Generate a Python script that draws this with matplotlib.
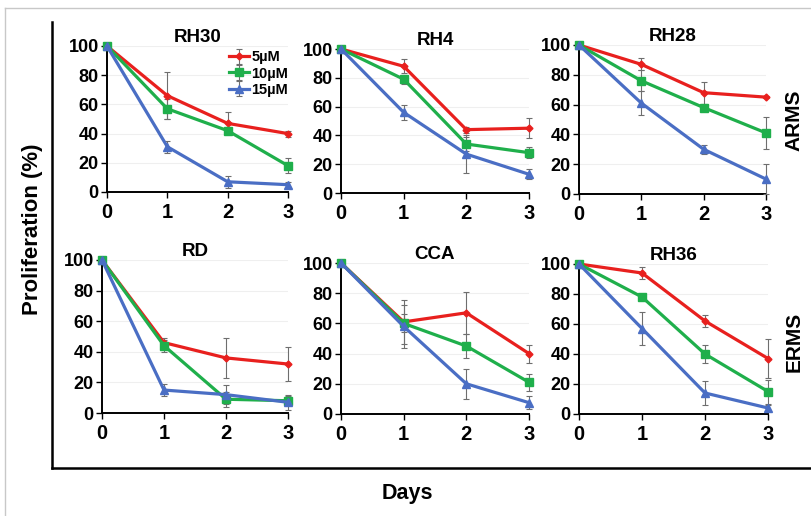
import matplotlib
matplotlib.use("Agg")
import matplotlib.pyplot as plt
from matplotlib.lines import Line2D

plt.rcParams['font.family'] = ['Liberation Sans', 'DejaVu Sans']
plt.rcParams['font.weight'] = 'bold'

days = [0, 1, 2, 3]
series_labels = ["5\u00b5M", "10\u00b5M", "15\u00b5M"]
colors = ["#E8201E", "#1FAF4B", "#4A6EC4"]
markers = ["D", "s", "^"]
msizes = [3.5, 5.5, 5.5]

panels = ["RH30", "RH4", "RH28", "RD", "CCA", "RH36"]

# values per panel: [5uM, 10uM, 15uM]
rh30_vals = [[100, 66, 47, 40], [100, 57, 42, 18], [100, 31, 7, 5]]
rh30_errs = [[0, 16, 7.5, 2], [0, 7, 2, 5], [0, 4, 4, 2]]
rh4_vals = [[100, 88, 44, 45], [100, 79, 34, 28], [100, 56, 27, 13]]
rh4_errs = [[0, 5, 2, 7], [0, 3, 5, 4], [0, 5, 13, 3.5]]
rh28_vals = [[100, 87, 68, 65], [100, 76, 58, 41], [100, 61, 30, 10]]
rh28_errs = [[0, 4, 7.5, 0.5], [0, 7, 1, 11], [0, 8, 3, 10]]
rd_vals = [[100, 46, 36, 32], [100, 44, 9, 8], [100, 15, 12, 7]]
rd_errs = [[0, 3, 13, 11], [0, 4, 5, 3], [0, 4, 6, 5]]
cca_vals = [[100, 61, 67, 40], [100, 60, 45, 21], [100, 58, 20, 7.5]]
cca_errs = [[0, 14.5, 14, 6], [0, 6, 8, 5.5], [0, 14, 10, 4.5]]
rh36_vals = [[100, 94, 62, 37], [100, 78, 40, 15], [100, 57, 14, 4]]
rh36_errs = [[0, 4, 4, 13], [0, 1, 6, 8], [0, 11, 8, 2]]

all_vals = [rh30_vals, rh4_vals, rh28_vals, rd_vals, cca_vals, rh36_vals]
all_errs = [rh30_errs, rh4_errs, rh28_errs, rd_errs, cca_errs, rh36_errs]

W, H = 812, 516
# axes rectangles in pixel coordinates: x0(day 0), x3(day 3), y_top(100), y_bottom(0)
rects = [(107, 288, 46, 192), (341, 529, 49, 193), (579, 766, 45, 194),
         (102, 288, 260, 413), (341, 529, 263, 414), (579, 768, 264, 414)]

fig = plt.figure(figsize=(W / 100, H / 100), dpi=100)

# outer frame lines
fig.add_artist(Line2D([5 / W, 5 / W], [0, 1 - 8 / H], color="#c8c8c8", lw=1.0))
fig.add_artist(Line2D([5 / W, 1], [1 - 8 / H, 1 - 8 / H], color="#c8c8c8", lw=1.0))
fig.add_artist(Line2D([52 / W, 52 / W], [1 - 22 / H, 1 - 468 / H], color="black", lw=1.8))
fig.add_artist(Line2D([52 / W, 1], [1 - 468 / H, 1 - 468 / H], color="black", lw=1.8))

for i, (name, vals, errs, r) in enumerate(zip(panels, all_vals, all_errs, rects)):
    x0, x3, yt, yb = r
    ax = fig.add_axes([x0 / W, 1 - yb / H, (x3 - x0) / W, (yb - yt) / H])
    for j in range(3):
        ax.errorbar(days, vals[j], yerr=errs[j], color=colors[j], ecolor="#6e6e6e",
                    elinewidth=0.8, capsize=2, capthick=0.8, lw=2.3,
                    marker=markers[j], ms=msizes[j], label=series_labels[j],
                    clip_on=False, zorder=3)
    ax.set_xlim(0, 3)
    ax.set_ylim(0, 100)
    ax.set_xticks(days)
    ax.set_yticks([0, 20, 40, 60, 80, 100])
    ax.tick_params(axis='y', labelsize=13, length=4, width=1, pad=2)
    ax.tick_params(axis='x', labelsize=14.5, length=4, width=1, pad=4)
    for lab in ax.get_xticklabels() + ax.get_yticklabels():
        lab.set_fontweight('bold')
    ax.spines['top'].set_visible(False)
    ax.spines['right'].set_visible(False)
    ax.spines['left'].set_linewidth(1.4)
    ax.spines['bottom'].set_linewidth(1.4)
    ax.yaxis.grid(True, color="#efefef", lw=0.8)
    ax.set_axisbelow(True)
    ax.set_title(name, fontsize=13.5, fontweight='bold', pad=3)
    if i == 0:
        ax.legend(loc='upper right', bbox_to_anchor=(1.0, 0.97), frameon=False,
                  handlelength=1.4, handletextpad=0.15,
                  labelspacing=0.15, borderpad=0, borderaxespad=0,
                  prop={'weight': 'bold', 'size': 10.5})

fig.text(33 / W, 1 - 229 / H, "Proliferation (%)", rotation=90, ha='center', va='center',
         fontsize=16, fontweight='bold')
fig.text(407 / W, 1 - 493 / H, "Days", ha='center', va='center', fontsize=15.5, fontweight='bold')
fig.text(794 / W, 1 - 120 / H, "ARMS", rotation=90, ha='center', va='center',
         fontsize=15, fontweight='bold')
fig.text(794 / W, 1 - 342 / H, "ERMS", rotation=90, ha='center', va='center',
         fontsize=15, fontweight='bold')

fig.savefig("out.png", dpi=100)
